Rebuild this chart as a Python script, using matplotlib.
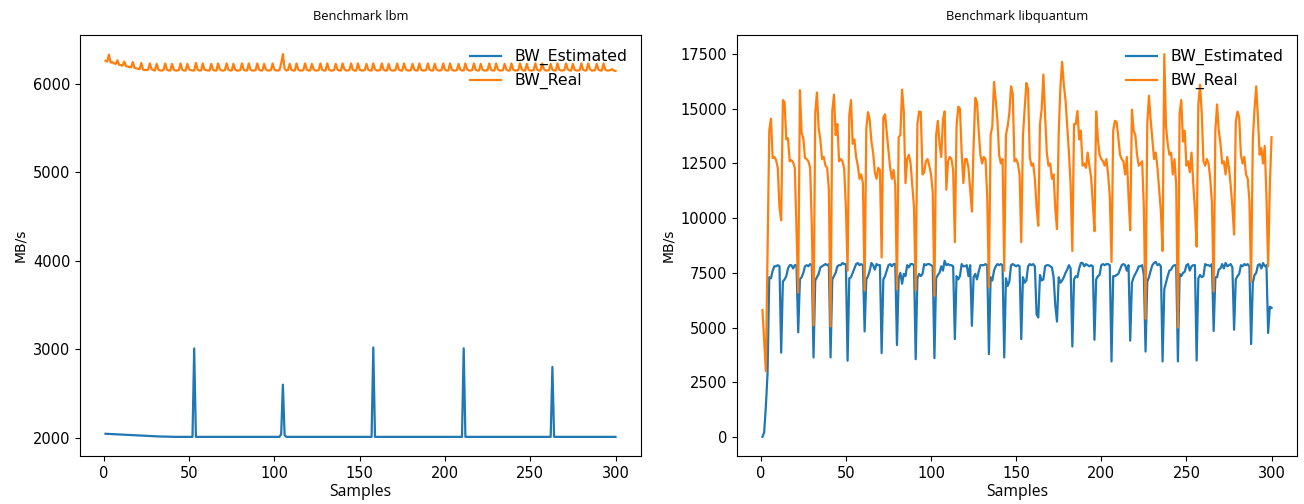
import matplotlib
matplotlib.use("Agg")
import matplotlib.pyplot as plt
import numpy as np

# ---------------- data ----------------
titles = ["Benchmark lbm", "Benchmark libquantum"]
series_names = ["BW_Estimated", "BW_Real"]
x_label = "Samples"
y_label = "MB/s"

lbm_estimated = [
    2045, 2044, 2043, 2042, 2041, 2040, 2039, 2038, 2037, 2036, 2035, 2034, 2033, 2032, 2031, 2030, 2029, 2028, 2027, 2026,
    2025, 2024, 2023, 2022, 2021, 2020, 2019, 2018, 2017, 2016, 2015, 2015, 2014, 2014, 2013, 2013, 2012, 2012, 2012, 2011,
    2010, 2010, 2010, 2010, 2010, 2010, 2010, 2010, 2010, 2010, 2010, 2010, 3010, 2010, 2010, 2010, 2010, 2010, 2010, 2010,
    2010, 2010, 2010, 2010, 2010, 2010, 2010, 2010, 2010, 2010, 2010, 2010, 2010, 2010, 2010, 2010, 2010, 2010, 2010, 2010,
    2010, 2010, 2010, 2010, 2010, 2010, 2010, 2010, 2010, 2010, 2010, 2010, 2010, 2010, 2010, 2010, 2010, 2010, 2010, 2010,
    2010, 2010, 2010, 2040, 2600, 2030, 2010, 2010, 2010, 2010, 2010, 2010, 2010, 2010, 2010, 2010, 2010, 2010, 2010, 2010,
    2010, 2010, 2010, 2010, 2010, 2010, 2010, 2010, 2010, 2010, 2010, 2010, 2010, 2010, 2010, 2010, 2010, 2010, 2010, 2010,
    2010, 2010, 2010, 2010, 2010, 2010, 2010, 2010, 2010, 2010, 2010, 2010, 2010, 2010, 2010, 2010, 2010, 3020, 2010, 2010,
    2010, 2010, 2010, 2010, 2010, 2010, 2010, 2010, 2010, 2010, 2010, 2010, 2010, 2010, 2010, 2010, 2010, 2010, 2010, 2010,
    2010, 2010, 2010, 2010, 2010, 2010, 2010, 2010, 2010, 2010, 2010, 2010, 2010, 2010, 2010, 2010, 2010, 2010, 2010, 2010,
    2010, 2010, 2010, 2010, 2010, 2010, 2010, 2010, 2010, 2010, 3010, 2010, 2010, 2010, 2010, 2010, 2010, 2010, 2010, 2010,
    2010, 2010, 2010, 2010, 2010, 2010, 2010, 2010, 2010, 2010, 2010, 2010, 2010, 2010, 2010, 2010, 2010, 2010, 2010, 2010,
    2010, 2010, 2010, 2010, 2010, 2010, 2010, 2010, 2010, 2010, 2010, 2010, 2010, 2010, 2010, 2010, 2010, 2010, 2010, 2010,
    2010, 2010, 2800, 2010, 2010, 2010, 2010, 2010, 2010, 2010, 2010, 2010, 2010, 2010, 2010, 2010, 2010, 2010, 2010, 2010,
    2010, 2010, 2010, 2010, 2010, 2010, 2010, 2010, 2010, 2010, 2010, 2010, 2010, 2010, 2010, 2010, 2010, 2010, 2010, 2010,
]

lbm_real = [
    6260, 6250, 6330, 6240, 6245, 6230, 6225, 6265, 6215, 6210, 6205, 6250, 6200, 6195, 6190, 6185, 6245, 6180, 6175, 6170,
    6165, 6235, 6160, 6155, 6155, 6160, 6230, 6165, 6155, 6150, 6225, 6160, 6150, 6150, 6155, 6230, 6160, 6150, 6150, 6225,
    6160, 6150, 6150, 6155, 6230, 6160, 6150, 6150, 6225, 6165, 6155, 6150, 6150, 6235, 6160, 6150, 6150, 6230, 6160, 6155,
    6150, 6150, 6225, 6160, 6150, 6150, 6230, 6165, 6150, 6150, 6155, 6230, 6160, 6150, 6150, 6225, 6160, 6150, 6150, 6155,
    6230, 6160, 6150, 6150, 6230, 6160, 6150, 6150, 6155, 6230, 6160, 6150, 6150, 6225, 6165, 6150, 6150, 6155, 6230, 6160,
    6150, 6150, 6155, 6230, 6335, 6170, 6150, 6155, 6225, 6160, 6150, 6150, 6230, 6160, 6150, 6150, 6155, 6230, 6160, 6150,
    6150, 6225, 6165, 6150, 6150, 6155, 6230, 6160, 6150, 6150, 6230, 6160, 6150, 6150, 6155, 6225, 6160, 6150, 6150, 6230,
    6165, 6150, 6150, 6155, 6230, 6160, 6150, 6150, 6230, 6160, 6150, 6150, 6155, 6225, 6160, 6150, 6150, 6230, 6165, 6150,
    6150, 6155, 6230, 6160, 6150, 6150, 6225, 6160, 6150, 6150, 6155, 6230, 6160, 6150, 6150, 6230, 6165, 6150, 6150, 6155,
    6225, 6160, 6150, 6150, 6230, 6160, 6150, 6150, 6155, 6230, 6160, 6150, 6150, 6225, 6165, 6150, 6150, 6155, 6230, 6160,
    6150, 6150, 6230, 6160, 6150, 6150, 6155, 6225, 6160, 6150, 6150, 6230, 6165, 6150, 6150, 6155, 6230, 6160, 6150, 6150,
    6225, 6160, 6150, 6150, 6155, 6230, 6160, 6150, 6150, 6230, 6165, 6150, 6150, 6155, 6225, 6160, 6150, 6150, 6230, 6160,
    6150, 6150, 6155, 6230, 6165, 6150, 6150, 6225, 6160, 6150, 6150, 6155, 6230, 6160, 6150, 6150, 6230, 6165, 6150, 6150,
    6155, 6225, 6160, 6150, 6150, 6230, 6160, 6150, 6150, 6155, 6230, 6165, 6150, 6150, 6225, 6160, 6150, 6150, 6155, 6230,
    6160, 6150, 6150, 6230, 6165, 6150, 6150, 6155, 6225, 6160, 6150, 6150, 6230, 6160, 6150, 6150, 6155, 6165, 6150, 6145,
]

libq_estimated = [
    0, 200, 1400, 2900, 7300, 7250, 7600, 7800, 7800, 7850, 7800, 3850, 7100, 7200, 7350, 7700, 7850, 7850, 7700, 7850,
    7850, 4780, 7200, 7300, 7500, 7800, 7850, 7800, 7900, 7850, 3630, 7150, 7300, 7450, 7750, 7800, 7850, 7900, 7850, 7900,
    3630, 7200, 7350, 7500, 7800, 7850, 7850, 7950, 7900, 7900, 3480, 7250, 7300, 7500, 7700, 7900, 7950, 7850, 7900, 7850,
    4820, 7200, 7350, 7600, 7950, 7850, 7650, 7900, 7850, 7850, 3830, 7200, 7350, 7600, 7850, 7900, 7800, 7900, 7900, 4200,
    7250, 7500, 7000, 7450, 7350, 7850, 7750, 7900, 7900, 7850, 3550, 7250, 7450, 7350, 7450, 7900, 7850, 7900, 7900, 7850,
    7800, 3600, 7250, 7400, 7500, 7800, 7600, 8050, 7850, 7900, 7850, 7850, 7800, 4470, 7350, 7200, 7350, 7900, 7800, 7800,
    7850, 7350, 7850, 5080, 7300, 7450, 7200, 7550, 7850, 7850, 7850, 7900, 7850, 3780, 7300, 7150, 7600, 7800, 7900, 7850,
    7900, 7850, 3630, 7250, 6900, 7100, 7850, 7900, 7850, 7800, 7850, 7800, 4470, 7300, 7050, 7150, 7800, 7900, 7850, 7900,
    7800, 5600, 5460, 7400, 7150, 7200, 7800, 7850, 7850, 7800, 7750, 7300, 6000, 5270, 7300, 7050, 7150, 7300, 7500, 7650,
    7850, 7700, 4130, 7200, 7350, 7300, 7700, 7950, 7950, 7800, 7900, 7850, 7800, 7850, 7800, 4440, 7200, 7350, 7400, 7850,
    7900, 7850, 7900, 7900, 7850, 3450, 7350, 7350, 7400, 7450, 7650, 7850, 7900, 7850, 7600, 7850, 4400, 7050, 7300, 7450,
    7600, 7800, 7800, 7850, 7400, 3900, 7100, 7300, 7600, 7850, 7950, 8000, 7850, 7900, 7800, 3450, 6750, 7050, 7350, 7600,
    7650, 7800, 7850, 7850, 3450, 7450, 7350, 7500, 7550, 7850, 7900, 7600, 7800, 7850, 7850, 3490, 7250, 7400, 7300, 7350,
    7900, 7850, 7850, 7800, 7900, 4840, 7300, 7300, 7650, 7700, 7900, 7700, 7950, 7800, 7850, 7900, 7750, 4900, 7200, 7350,
    7450, 7850, 7800, 7900, 7850, 7900, 7800, 4240, 7050, 7400, 7500, 7850, 7900, 7700, 7950, 7800, 7850, 4750, 5950, 5900,
]

libq_real = [
    5800, 4400, 3000, 8500, 14000, 14550, 12750, 12800, 12650, 12300, 10500, 9900, 15400, 15300, 13600, 13650, 12600, 12650, 12550, 12300,
    9400, 6600, 15850, 13900, 13650, 12750, 12700, 12600, 12300, 9600, 5100, 14800, 15750, 14100, 13600, 12700, 12800, 12400, 12300, 11300,
    5050, 14900, 15650, 13800, 14300, 12600, 12700, 12600, 12250, 10500, 7600, 14700, 15400, 13400, 13600, 12800, 12400, 11800, 12000, 11600,
    6700, 14100, 14850, 14500, 13500, 13000, 12100, 11800, 12300, 12200, 8200, 14600, 14750, 13900, 13100, 12300, 11800, 12200, 11500, 6750,
    13700, 13800, 15880, 14900, 11600, 12700, 12900, 12500, 11500, 10500, 6700, 14300, 14880, 14850, 12000, 12100, 12600, 12700, 12400, 12000,
    11200, 6450, 13800, 14450, 13400, 12800, 14500, 14880, 11300, 12600, 12800, 12700, 12200, 8900, 14200, 15100, 15000, 13000, 11600, 12700,
    12700, 12300, 11300, 10300, 13300, 15500, 15300, 14000, 12900, 12500, 12800, 12700, 11000, 6850, 13800, 14200, 16230, 15400, 14500, 12900,
    12500, 12700, 7600, 13800, 14200, 14800, 16030, 15700, 12600, 12700, 12500, 12000, 8900, 13800, 15000, 16180, 15900, 12800, 12400, 12500,
    11800, 10500, 9650, 14300, 15000, 16570, 14700, 13000, 12400, 12500, 11800, 12000, 10400, 9500, 13900, 16000, 17150, 16100, 15400, 14200,
    13000, 11500, 8500, 14300, 14300, 14900, 13600, 14000, 12400, 12500, 12300, 13000, 12400, 11900, 10700, 9400, 14880, 13600, 12900, 12700,
    12600, 12400, 12700, 12000, 11000, 8000, 14000, 14450, 14400, 13700, 12900, 12700, 12600, 12000, 12800, 11000, 9450, 14960, 14000, 13800,
    12900, 12400, 12500, 12600, 10500, 5400, 14300, 15600, 14500, 13600, 12700, 13000, 12300, 11300, 10300, 8500, 17500, 14200, 13400, 12900,
    13000, 12000, 12700, 11500, 5000, 14800, 15400, 13500, 14000, 12400, 12600, 12100, 13000, 11600, 10400, 8700, 15200, 16100, 14800, 12600,
    12400, 12700, 12500, 11800, 10700, 6650, 14000, 15200, 14000, 13400, 12500, 12600, 12000, 12800, 12300, 11500, 10500, 9250, 14400, 14880,
    14600, 12900, 12500, 12800, 12000, 11800, 10800, 7100, 13600, 15000, 16030, 14600, 12900, 13200, 12500, 13300, 11000, 7800, 11500, 13700,
]

samples = list(range(1, 301))
panels = [
    (lbm_estimated, lbm_real),
    (libq_estimated, libq_real),
]
assert all(len(s) == 300 for p in panels for s in p)

# ---------------- figure ----------------
W, H = 1304, 504
fig = plt.figure(figsize=(W / 100, H / 100), dpi=100)

axes_px = [(80, 35, 641, 456), (737, 35, 1297, 456)]
colors = ["#1f77b4", "#ff7f0e"]

for (x0, y0, x1, y1), (est, real), title in zip(axes_px, panels, titles):
    ax = fig.add_axes([x0 / W, 1 - y1 / H, (x1 - x0) / W, (y1 - y0) / H])
    ax.plot(samples, est, color=colors[0], lw=1.6, label=series_names[0])
    ax.plot(samples, real, color=colors[1], lw=1.6, label=series_names[1])
    ax.set_xticks([0, 50, 100, 150, 200, 250, 300])
    ax.tick_params(labelsize=10.5)
    ax.set_title(title, fontsize=9.3, family="Open Sans", pad=11)
    ax.set_xlabel(x_label, fontsize=11.3, family="Open Sans", labelpad=2)
    ax.set_ylabel(y_label, fontsize=10)
    ax.legend(loc="upper right", frameon=False, fontsize=11.3)

fig.savefig("out.png", dpi=100)
